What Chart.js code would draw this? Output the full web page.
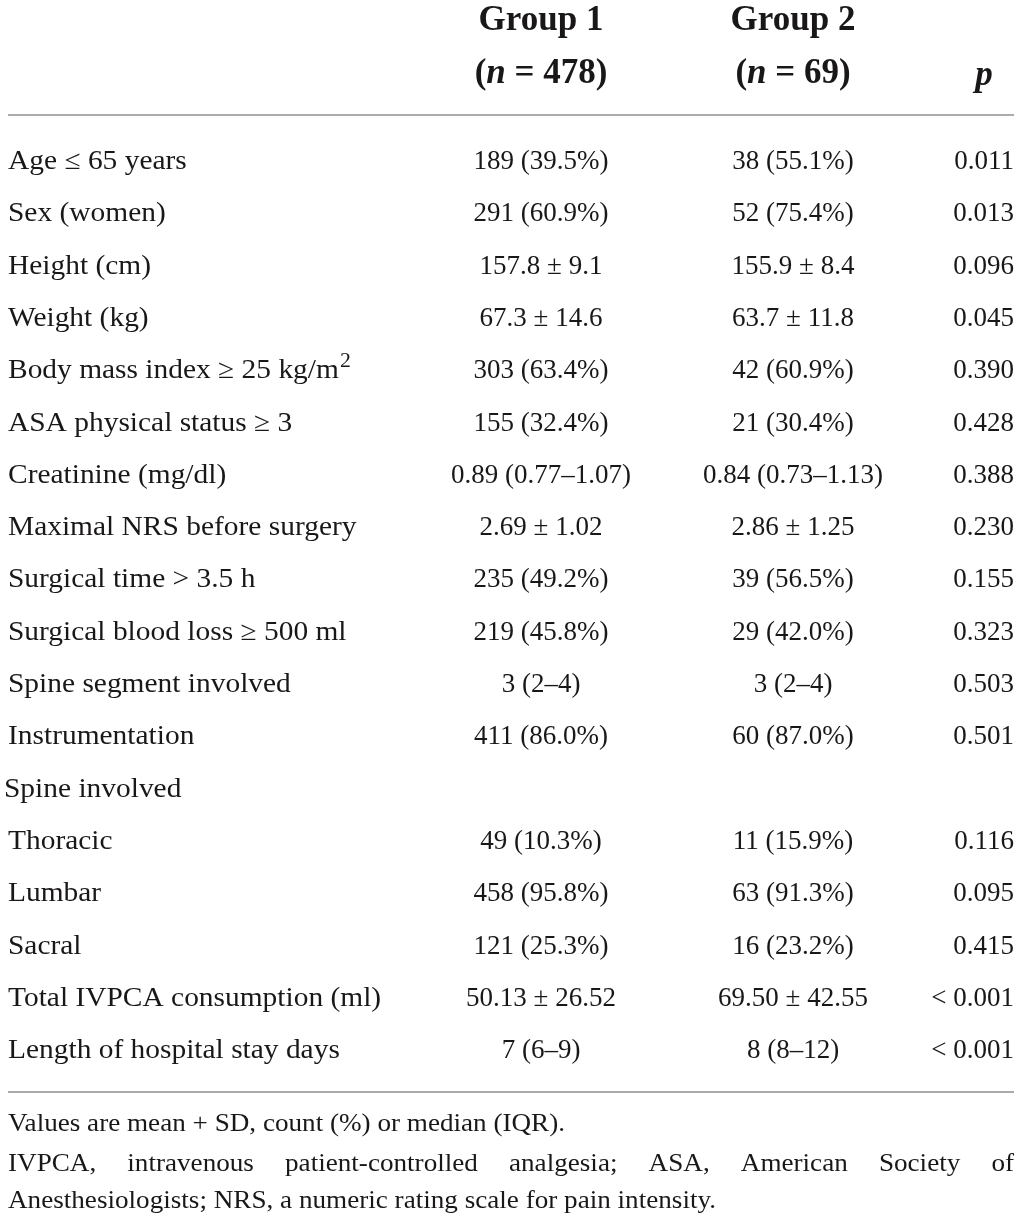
<!DOCTYPE html>
<html>
<head>
<meta charset="utf-8">
<script src="https://cdn.jsdelivr.net/npm/chart.js@4.4.0/dist/chart.umd.min.js"></script>
<style>
  html, body { margin: 0; padding: 0; background: #fff; }
  #wrap { width: 1022px; height: 1218px; position: relative; }
</style>
</head>
<body>
<div id="wrap"><canvas id="tabla"></canvas></div>
<script>
// Characteristics table: Group 1 vs Group 2
const rows = ['Age ≤ 65 years', 'Sex (women)', 'Height (cm)', 'Weight (kg)',
  'Body mass index ≥ 25 kg/m^2', 'ASA physical status ≥ 3', 'Creatinine (mg/dl)',
  'Maximal NRS before surgery', 'Surgical time > 3.5 h', 'Surgical blood loss ≥ 500 ml',
  'Spine segment involved', 'Instrumentation', 'Spine involved', 'Thoracic', 'Lumbar',
  'Sacral', 'Total IVPCA consumption (ml)', 'Length of hospital stay days']
const group1 = ['189 (39.5%)', '291 (60.9%)', '157.8 ± 9.1', '67.3 ± 14.6', '303 (63.4%)',
  '155 (32.4%)', '0.89 (0.77–1.07)', '2.69 ± 1.02', '235 (49.2%)', '219 (45.8%)', '3 (2–4)',
  '411 (86.0%)', '', '49 (10.3%)', '458 (95.8%)', '121 (25.3%)', '50.13 ± 26.52', '7 (6–9)']
const group2 = ['38 (55.1%)', '52 (75.4%)', '155.9 ± 8.4', '63.7 ± 11.8', '42 (60.9%)',
  '21 (30.4%)', '0.84 (0.73–1.13)', '2.86 ± 1.25', '39 (56.5%)', '29 (42.0%)', '3 (2–4)',
  '60 (87.0%)', '', '11 (15.9%)', '63 (91.3%)', '16 (23.2%)', '69.50 ± 42.55', '8 (8–12)']
const pValues = ['0.011', '0.013', '0.096', '0.045', '0.390', '0.428', '0.388', '0.230',
  '0.155', '0.323', '0.503', '0.501', '', '0.116', '0.095', '0.415', '< 0.001', '< 0.001']
const groupNames = ['Group 1', 'Group 2']
const groupSizes = [478, 69]
const notes = [
  'Values are mean + SD, count (%) or median (IQR).',
  'IVPCA, intravenous patient-controlled analgesia; ASA, American Society of',
  'Anesthesiologists; NRS, a numeric rating scale for pain intensity.'
]

// layout
const colX = [8, 541, 793, 1014]
const colAlign = ['left', 'center', 'center', 'right']
const ink = '#1a1718'
const serif = '"Liberation Serif", "DejaVu Serif", serif'
const labelStretch = 1.09

function drawLabel(ctx, text, x, y) {
  const parts = text.split('^')
  ctx.save()
  ctx.translate(x, y)
  ctx.scale(labelStretch, 1)
  ctx.textAlign = 'left'
  ctx.fillText(parts[0], 0, 0)
  if (parts[1]) {
    const w = ctx.measureText(parts[0]).width
    ctx.font = '20px ' + serif
    ctx.fillText(parts[1], w + 1, -9)
  }
  ctx.restore()
}

const tablePlugin = {
  id: 'tablePlugin',
  afterDraw(chart) {
    const ctx = chart.ctx
    const xs = chart.scales.x
    const area = chart.chartArea
    const px = v => xs.getPixelForValue(v)
    ctx.save()
    ctx.fillStyle = ink
    ctx.textBaseline = 'middle'

    // rules
    ctx.strokeStyle = '#ababab'
    ctx.lineWidth = 2
    ;[area.top - 47, area.bottom + 41].forEach(y => {
      ctx.beginPath(); ctx.moveTo(px(8), y); ctx.lineTo(px(1014), y); ctx.stroke()
    })

    // header
    groupNames.forEach((g, i) => {
      const cx = px(colX[i + 1])
      ctx.font = 'bold 35px ' + serif
      ctx.textAlign = 'center'
      ctx.fillText(g, cx, area.top - 141)
      const a = '(', b = 'n', c = ' = ' + groupSizes[i] + ')'
      const fb = 'bold 35px ' + serif, fi = 'italic bold 35px ' + serif
      ctx.font = fb; const wa = ctx.measureText(a).width, wc = ctx.measureText(c).width
      ctx.font = fi; const wb = ctx.measureText(b).width
      let x = cx - (wa + wb + wc) / 2
      ctx.textAlign = 'left'
      ctx.font = fb; ctx.fillText(a, x, area.top - 88); x += wa
      ctx.font = fi; ctx.fillText(b, x, area.top - 88); x += wb
      ctx.font = fb; ctx.fillText(c, x, area.top - 88)
    })
    ctx.font = 'italic bold 35px ' + serif
    ctx.textAlign = 'center'
    ctx.fillText('p', px(984), area.top - 86)

    // cells
    ctx.font = '27px ' + serif
    chart.data.datasets.forEach((ds, di) => {
      const meta = chart.getDatasetMeta(di)
      meta.data.forEach((pt, i) => {
        const t = ds.texts[i]
        if (!t) return
        if (di === 0) {
          const section = !group1[i] && !group2[i]
          drawLabel(ctx, t, pt.x - (section ? 4 : 0), pt.y)
        } else {
          ctx.textAlign = colAlign[di]
          ctx.fillText(t, pt.x, pt.y)
        }
      })
    })

    // footnotes (slightly condensed)
    ctx.font = '26px ' + serif
    ctx.textAlign = 'left'
    const sx = 557 / ctx.measureText(notes[0]).width
    const left = px(8), right = px(1014)
    const y0 = area.bottom + 73
    const drawSq = (t, x, y) => { ctx.save(); ctx.translate(x, y); ctx.scale(sx, 1); ctx.fillText(t, 0, 0); ctx.restore() }
    drawSq(notes[0], left, y0)
    const words = notes[1].split(' ')
    const ws = words.map(w => ctx.measureText(w).width * sx)
    const gap = (right - left - ws.reduce((s, w) => s + w, 0)) / (words.length - 1)
    let x = left
    words.forEach((w, i) => { drawSq(w, x, y0 + 40); x += ws[i] + gap })
    drawSq(notes[2], left, y0 + 77)
    ctx.restore()
  }
}

const columns = [rows, group1, group2, pValues]
new Chart(document.getElementById('tabla'), {
  type: 'scatter',
  data: {
    datasets: columns.map((texts, i) => ({
      label: 'col' + i,
      texts: texts,
      data: rows.map(r => ({ x: colX[i], y: r })),
      pointRadius: 0,
      pointHoverRadius: 0
    }))
  },
  options: {
    responsive: true,
    maintainAspectRatio: false,
    animation: false,
    events: [],
    layout: { padding: { top: 162, bottom: 167, left: 0, right: 0 } },
    plugins: { legend: { display: false }, tooltip: { enabled: false } },
    scales: {
      x: { type: 'linear', min: 0, max: 1022, display: false },
      y: { type: 'category', labels: rows, offset: false, display: false }
    }
  },
  plugins: [tablePlugin]
})
</script>
</body>
</html>
